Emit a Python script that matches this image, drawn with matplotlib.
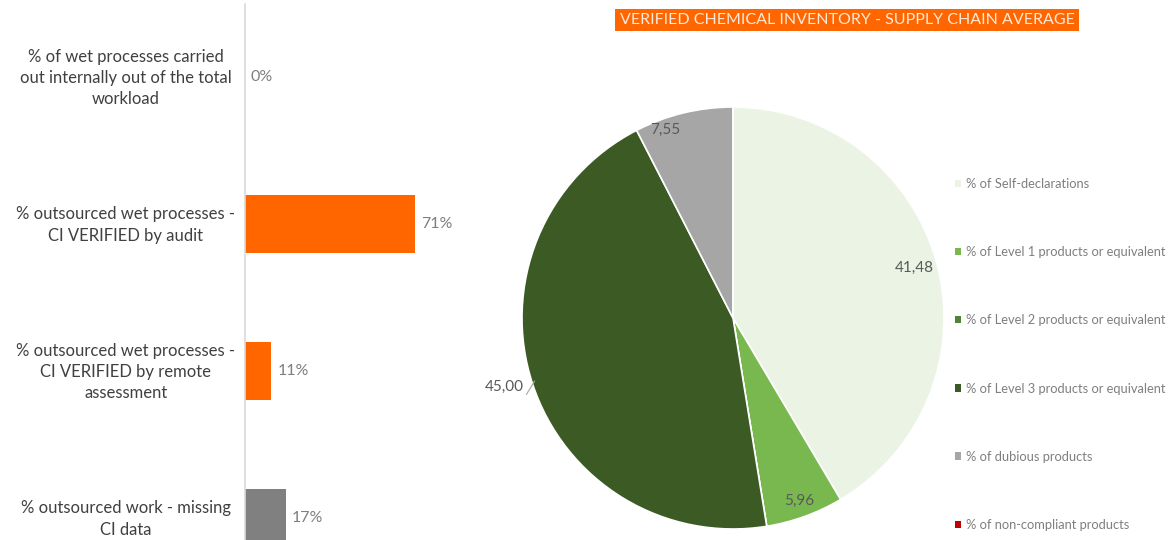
import numpy as np
import matplotlib
matplotlib.use("Agg")
import matplotlib.pyplot as plt
import matplotlib.transforms as mtransforms
from matplotlib.patches import Patch

plt.rcParams['font.family'] = ['Lato', 'DejaVu Sans']

# ---- data ----
bar_categories = [
    "% of wet processes carried\nout internally out of the total\nworkload",
    "% outsourced wet processes -\nCI VERIFIED by audit",
    "% outsourced wet processes -\nCI VERIFIED by remote\nassessment",
    "% outsourced work - missing\nCI data",
]
bar_values = [0, 71, 11, 17]
bar_labels = ["0%", "71%", "11%", "17%"]
bar_colors = ["#FF6600", "#FF6600", "#FF6600", "#808080"]

pie_categories = [
    "% of Self-declarations",
    "% of Level 1 products or equivalent",
    "% of Level 2 products or equivalent",
    "% of Level 3 products or equivalent",
    "% of dubious products",
    "% of non-compliant products",
]
pie_values = [41.48, 5.96, 0.0, 45.00, 7.55, 0.0]
pie_labels = ["41,48", "5,96", "", "45,00", "7,55", ""]
pie_colors = ["#EBF3E4", "#78B84E", "#548235", "#3B5A24", "#A6A6A6", "#C00000"]
title = "VERIFIED CHEMICAL INVENTORY - SUPPLY CHAIN AVERAGE"

W, H = 1173, 540
fig = plt.figure(figsize=(W / 100, H / 100), dpi=100)
fig.patch.set_facecolor("white")

# ---- bar chart ----
row_px = 147.0
top_px = 77 - row_px / 2
left_px = 245
px_per_unit = 170 / 71.0
xmax = 100
ax = fig.add_axes([left_px / W, 1 - (top_px + 4 * row_px) / H,
                   xmax * px_per_unit / W, 4 * row_px / H])
y = np.arange(len(bar_values))
ax.barh(y, bar_values, height=0.4, color=bar_colors)
ax.set_ylim(3.5, -0.5)
ax.set_xlim(0, xmax)
for s in ["top", "right", "bottom"]:
    ax.spines[s].set_visible(False)
ax.spines["left"].set_color("#D9D9D9")
ax.spines["left"].set_linewidth(1.2)
ax.set_xticks([])
ax.set_yticks(y)
ax.set_yticklabels(bar_categories, fontsize=12, color="#404040",
                   ha="center", linespacing=1.4)
ax.tick_params(axis="y", length=0, pad=(245 - 126) * 0.72)
shift = mtransforms.ScaledTranslation(0, 3 / 100, fig.dpi_scale_trans)
for t in ax.get_yticklabels():
    t.set_transform(t.get_transform() + shift)
for yi, v, lab in zip(y, bar_values, bar_labels):
    ax.text(v + 2.5, yi, lab, va="center", ha="left", fontsize=11.5,
            color="#7F7F7F")

# ---- pie chart ----
cx, cy, r = 733, 318, 211
pax = fig.add_axes([(cx - r) / W, 1 - (cy + r) / H, 2 * r / W, 2 * r / H])
wedges, _ = pax.pie(pie_values, colors=pie_colors, startangle=90,
                    counterclock=False, radius=1.0,
                    wedgeprops=dict(edgecolor="white", linewidth=1.2))
pax.set_xlim(-1, 1)
pax.set_ylim(-1, 1)
pax.set_aspect("auto")
pax.axis("off")
dist = [0.89, 0.92, 0.9, 1.1, 0.95, 0.9]
ang_off = [0, 0, 0, 0, 6.3, 0]
for w, lab, d, ao in zip(wedges, pie_labels, dist, ang_off):
    if not lab:
        continue
    ang = np.deg2rad((w.theta1 + w.theta2) / 2 + ao)
    x, yv = d * np.cos(ang), d * np.sin(ang)
    if d > 1:
        pax.plot([1.03 * np.cos(ang), 0.99 * np.cos(ang)],
                 [1.03 * np.sin(ang) - 0.04, 0.99 * np.sin(ang) + 0.01],
                 color="#A6A6A6", lw=0.8, clip_on=False)
        pax.text(1.045 * np.cos(ang), yv + 0.015, lab, ha="right",
                 va="center", fontsize=11, color="#595959", clip_on=False)
    else:
        pax.text(x, yv, lab, ha="center", va="center", fontsize=11,
                 color="#595959")

# ---- title ----
fig.text(847 / W, 1 - 20 / H, title, ha="center", va="center", fontsize=11.5,
         color="#FFE9D9",
         bbox=dict(boxstyle="square,pad=0.28", facecolor="#FF6600",
                   edgecolor="none"))

# ---- legend ----
handles = [Patch(facecolor=c, edgecolor="none") for c in pie_colors]
leg = fig.legend(handles, pie_categories, loc="upper left",
                 bbox_to_anchor=(955 / W, 1 - 178 / H), frameon=False,
                 fontsize=9.3, labelcolor="#7F7F7F", handlelength=0.5,
                 handleheight=0.5, handletextpad=0.35, labelspacing=4.35,
                 borderaxespad=0, borderpad=0)

fig.savefig("out.png", dpi=100, facecolor="white")
